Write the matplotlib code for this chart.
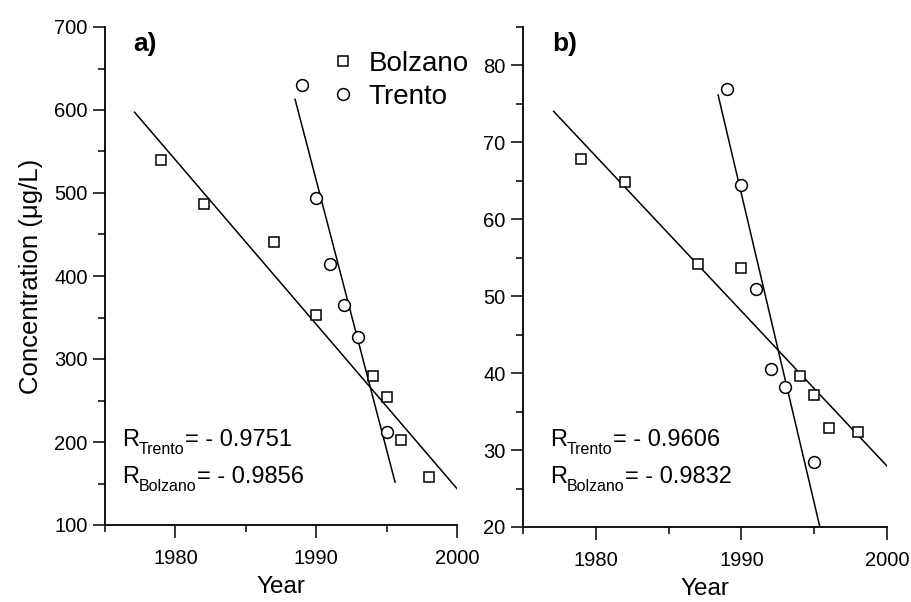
import matplotlib.pyplot as plt
import numpy as np
from matplotlib.ticker import MultipleLocator

plt.rcParams['font.family'] = ['Liberation Sans', 'DejaVu Sans']

# panel a)
bz_year_a = [1979, 1982, 1987, 1990, 1994, 1995, 1996, 1998]
bz_conc_a = [540, 487, 441, 353, 280, 254, 202, 158]
tn_year_a = [1989, 1990, 1991, 1992, 1993, 1995]
tn_conc_a = [630, 494, 415, 365, 327, 212]

# panel b)
bz_year_b = [1979, 1982, 1987, 1990, 1994, 1995, 1996, 1998]
bz_conc_b = [67.8, 64.8, 54.2, 53.7, 39.6, 37.2, 32.9, 32.3]
tn_year_b = [1989, 1990, 1991, 1992, 1993, 1995]
tn_conc_b = [77.0, 64.4, 50.9, 40.6, 38.2, 28.4]

r_names = ['Trento', 'Bolzano']
r_a = ['- 0.9751', '- 0.9856']
r_b = ['- 0.9606', '- 0.9832']

W, H = 912, 602
fig = plt.figure(figsize=(W/100, H/100), dpi=100)
ax1 = fig.add_axes([105/W, 77/H, 352/W, 498/H])
ax2 = fig.add_axes([523/W, 75/H, 364/W, 500/H])


def fitline(ax, x, y, x0, x1):
    k, b = np.polyfit(x, y, 1)
    xs = np.array([x0, x1])
    ax.plot(xs, k*xs + b, color='black', lw=1.1)


def style(ax):
    for s in ['top', 'right']:
        ax.spines[s].set_visible(False)
    for s in ['left', 'bottom']:
        ax.spines[s].set_linewidth(1.3)
    ax.set_xlim(1975, 2000)
    ax.xaxis.set_major_locator(MultipleLocator(10))
    ax.xaxis.set_minor_locator(MultipleLocator(5))
    ax.tick_params(which='major', length=9, width=1.1, labelsize=14.5, direction='out')
    ax.tick_params(which='minor', length=5, width=1.1, direction='out')
    ax.tick_params(axis='x', pad=8)
    ax.set_xlabel('Year', fontsize=17.5, labelpad=6)


def rtext(x, y, name, val):
    # R with a small, lowered subscript, then "= value"; x, y in pixels from top-left
    r = fig.text(x/W, 1 - y/H, 'R', fontsize=17, va='baseline')
    fig.canvas.draw()
    bb = r.get_window_extent()
    s = fig.text(bb.x1/W, 1 - (y + 8)/H, name, fontsize=11.5, va='baseline')
    fig.canvas.draw()
    bb2 = s.get_window_extent()
    fig.text(bb2.x1/W, 1 - y/H, '= ' + val, fontsize=17, va='baseline')


style(ax1)
ax1.set_ylim(100, 700)
ax1.yaxis.set_major_locator(MultipleLocator(100))
ax1.yaxis.set_minor_locator(MultipleLocator(50))
fitline(ax1, bz_year_a, bz_conc_a, 1977.1, 2000)
fitline(ax1, tn_year_a, tn_conc_a, 1988.5, 1995.6)
ax1.plot(bz_year_a, bz_conc_a, 's', ms=7, mfc='white', mec='black', mew=1.1,
         ls='none', label='Bolzano')
ax1.plot(tn_year_a, tn_conc_a, 'o', ms=8.5, mfc='white', mec='black', mew=1.1,
         ls='none', label='Trento')
ax1.legend(loc='upper right', bbox_to_anchor=(1.08, 0.985), frameon=False,
           fontsize=20, handletextpad=0.3, labelspacing=0.25, borderaxespad=0.2,
           handlelength=1.2)
ax1.set_ylabel('Concentration (\u03bcg/L)', fontsize=18.5, labelpad=8)
ax1.text(0.08, 0.99, 'a)', transform=ax1.transAxes, fontsize=19,
         fontweight='bold', va='top')

style(ax2)
ax2.set_ylim(20, 85)
ax2.yaxis.set_major_locator(MultipleLocator(10))
ax2.yaxis.set_minor_locator(MultipleLocator(5))
fitline(ax2, bz_year_b, bz_conc_b, 1977.1, 2000)
fitline(ax2, tn_year_b, tn_conc_b, 1988.4, 1996)
ax2.plot(bz_year_b, bz_conc_b, 's', ms=7, mfc='white', mec='black', mew=1.1,
         ls='none', clip_on=False)
ax2.plot(tn_year_b, tn_conc_b, 'o', ms=8.5, mfc='white', mec='black', mew=1.1,
         ls='none', clip_on=False)
ax2.text(0.08, 0.99, 'b)', transform=ax2.transAxes, fontsize=19,
         fontweight='bold', va='top')

rtext(122, 446, r_names[0], r_a[0])
rtext(122, 483, r_names[1], r_a[1])
rtext(550, 446, r_names[0], r_b[0])
rtext(550, 483, r_names[1], r_b[1])

fig.savefig('out.png', dpi=100)
